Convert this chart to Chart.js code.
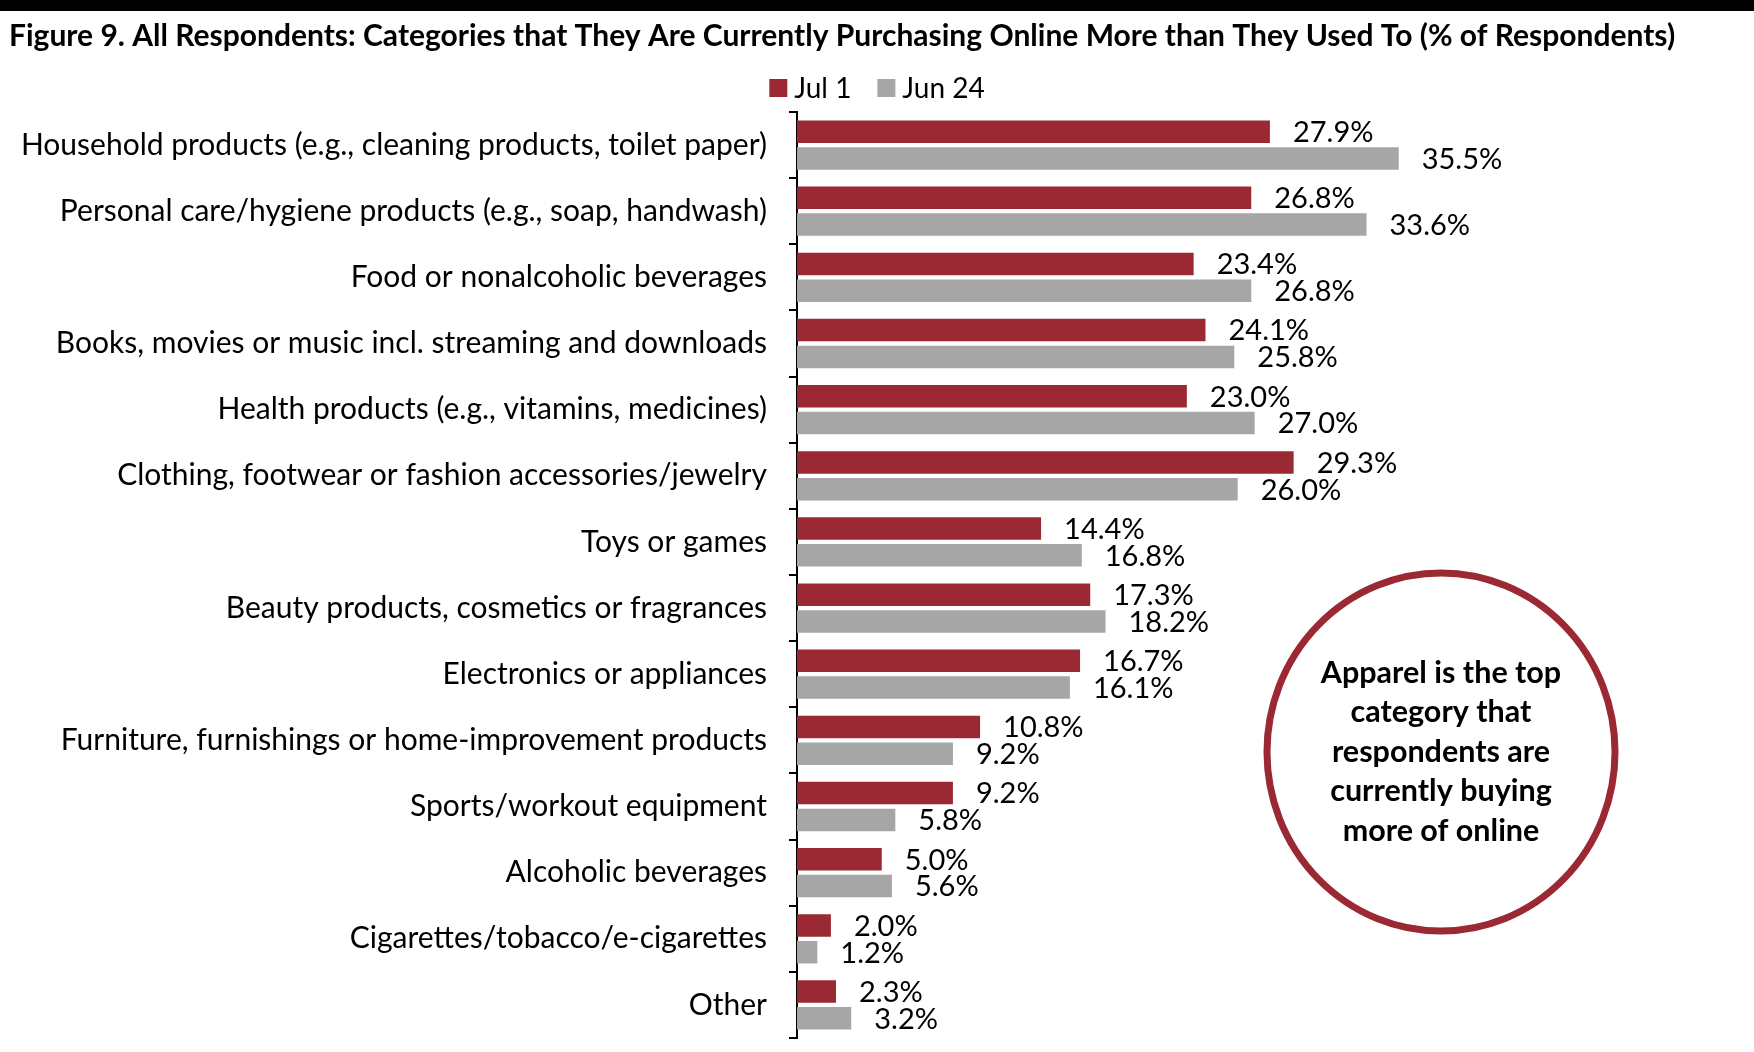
<!DOCTYPE html>
<html>
<head>
<meta charset="utf-8">
<title>Figure 9</title>
<script src="https://cdn.jsdelivr.net/npm/chart.js@4.4.1/dist/chart.umd.min.js"></script>
<style>
  html, body { margin: 0; padding: 0; background: #fff; }
  #wrap { width: 1754px; height: 1052px; position: relative; }
</style>
</head>
<body>
<div id="wrap"><canvas id="mycanvas"></canvas></div>
<script>
// chart values
var categories = [
	"Household products (e.g., cleaning products, toilet paper)",
	"Personal care/hygiene products (e.g., soap, handwash)",
	"Food or nonalcoholic beverages",
	"Books, movies or music incl. streaming and downloads",
	"Health products (e.g., vitamins, medicines)",
	"Clothing, footwear or fashion accessories/jewelry",
	"Toys or games",
	"Beauty products, cosmetics or fragrances",
	"Electronics or appliances",
	"Furniture, furnishings or home-improvement products",
	"Sports/workout equipment",
	"Alcoholic beverages",
	"Cigarettes/tobacco/e-cigarettes",
	"Other"
];
var jul1 = [27.9, 26.8, 23.4, 24.1, 23.0, 29.3, 14.4, 17.3, 16.7, 10.8, 9.2, 5.0, 2.0, 2.3];
var jun24 = [35.5, 33.6, 26.8, 25.8, 27.0, 26.0, 16.8, 18.2, 16.1, 9.2, 5.8, 5.6, 1.2, 3.2];
var seriesNames = ["Jul 1", "Jun 24"];
var titleText = "Figure 9. All Respondents: Categories that They Are Currently Purchasing Online More than They Used To (% of Respondents)";
var calloutLines = ["Apparel is the top", "category that", "respondents are", "currently buying", "more of online"];

var RED = "#9b2933";
var GRAY = "#a6a6a6";
var FONT = "Lato";

// value labels to the right of each bar
var valueLabels = {
	id: "valueLabels",
	afterDatasetsDraw: function(chart) {
		var ctx = chart.ctx;
		ctx.save();
		ctx.font = "29px " + FONT;
		ctx.fillStyle = "#000";
		ctx.textAlign = "left";
		ctx.textBaseline = "middle";
		chart.data.datasets.forEach(function(ds, i) {
			var meta = chart.getDatasetMeta(i);
			meta.data.forEach(function(bar, j) {
				ctx.fillText(ds.data[j].toFixed(1) + "%", bar.x + 23, bar.y + 1);
			});
		});
		ctx.restore();
	}
};

// top rule, title, legend and the callout circle
var decorations = {
	id: "decorations",
	afterDraw: function(chart) {
		var ctx = chart.ctx;
		var w = chart.width;
		ctx.save();

		ctx.fillStyle = "#000";
		ctx.fillRect(0, 0, w, 11);

		ctx.font = "bold 30px " + FONT;
		ctx.textAlign = "left";
		ctx.textBaseline = "middle";
		ctx.fillText(titleText, 9, 36, 1670);

		// legend
		ctx.font = "28px " + FONT;
		var box = 18, gap = 7, spacing = 26;
		var items = chart.data.datasets.map(function(ds) {
			return { text: ds.label, color: ds.backgroundColor, w: ctx.measureText(ds.label).width };
		});
		var total = 0;
		items.forEach(function(it, i) { total += box + gap + it.w + (i ? spacing : 0); });
		var x = w / 2 - total / 2;
		var y = 88;
		items.forEach(function(it) {
			ctx.fillStyle = it.color;
			ctx.fillRect(x, y - box / 2, box, box);
			ctx.fillStyle = "#000";
			ctx.fillText(it.text, x + box + gap, y + 1);
			x += box + gap + it.w + spacing;
		});

		// callout
		var cx = 1441, cy = 752;
		ctx.beginPath();
		ctx.ellipse(cx, cy, 174, 179, 0, 0, Math.PI * 2);
		ctx.lineWidth = 7;
		ctx.strokeStyle = RED;
		ctx.stroke();
		ctx.font = "bold 30.5px " + FONT;
		ctx.fillStyle = "#000";
		ctx.textAlign = "center";
		calloutLines.forEach(function(line, i) {
			ctx.fillText(line, cx, cy + (i - 2) * 39.5);
		});

		ctx.restore();
	}
};

var chartdata = {
	labels: categories,
	datasets: [
		{
			label: seriesNames[0],
			backgroundColor: RED,
			data: jul1
		},
		{
			label: seriesNames[1],
			backgroundColor: GRAY,
			data: jun24
		}
	]
};

var ctx = document.getElementById("mycanvas");

var BarGraph = new Chart(ctx, {
	type: "bar",
	data: chartdata,
	plugins: [valueLabels, decorations],
	options: {
		indexAxis: "y",
		responsive: true,
		maintainAspectRatio: false,
		devicePixelRatio: 1,
		animation: false,
		layout: {
			padding: { top: 112, bottom: 14, left: 0, right: 279 }
		},
		categoryPercentage: 0.81,
		barPercentage: 0.84,
		plugins: {
			legend: { display: false },
			title: { display: false },
			tooltip: { enabled: false }
		},
		scales: {
			x: {
				display: false,
				min: 0,
				max: 40
			},
			y: {
				grid: {
					offset: true,
					drawOnChartArea: false,
					drawTicks: true,
					tickLength: 8,
					color: "#000",
					lineWidth: 2
				},
				border: { display: true, color: "#000", width: 2 },
				ticks: {
					color: "#000",
					padding: 22,
					font: { family: FONT, size: 30 }
				},
				afterFit: function(scale) {
					scale.width = 797;
					scale.paddingTop = 0;
					scale.paddingBottom = 0;
				}
			}
		}
	}
});
</script>
</body>
</html>
